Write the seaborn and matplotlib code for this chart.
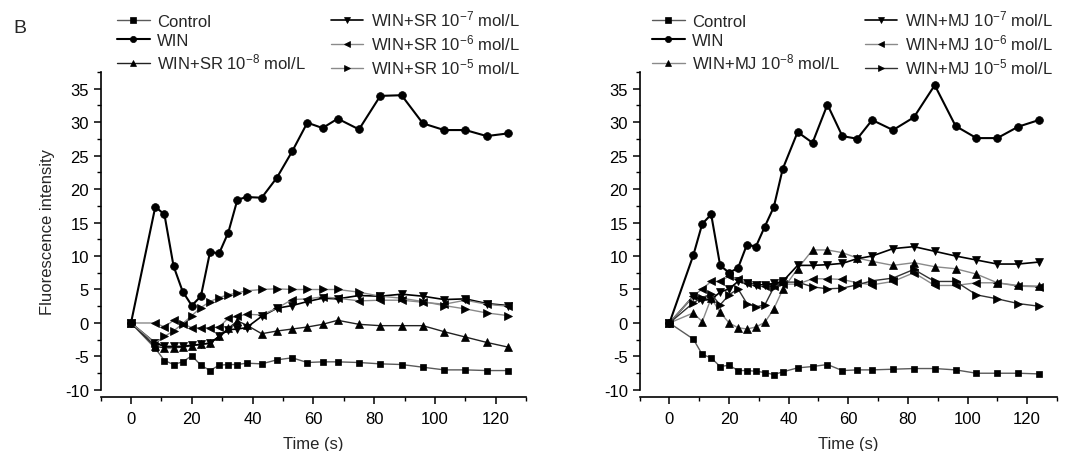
import matplotlib
matplotlib.use("Agg")
import matplotlib.pyplot as plt
import seaborn as sns
from matplotlib.ticker import MultipleLocator

# ---------------- data ----------------
time_s = [0, 8, 11, 14, 17, 20, 23, 26, 29, 32, 35, 38, 43, 48, 53, 58, 63, 68,
          75, 82, 89, 96, 103, 110, 117, 124]

# Panel with SR
sr_control = [0, -3.8, -5.6, -6.2, -5.8, -4.9, -6.3, -7.1, -6.3, -6.2, -6.2, -6.0, -6.1,
              -5.5, -5.2, -5.9, -5.8, -5.8, -5.9, -6.1, -6.2, -6.6, -7.0, -7.0, -7.1, -7.1]
sr_win = [0, 17.35, 16.2, 8.5, 4.7, 2.6, 4.0, 10.6, 10.4, 13.5, 18.4, 18.8, 18.7,
          21.7, 25.6, 29.9, 29.1, 30.5, 28.9, 33.9, 34.0, 29.8, 28.8, 28.8, 27.9, 28.3]
sr_1e8 = [0, -3.5, -3.7, -3.7, -3.6, -3.4, -3.2, -3.0, -2.0, -0.8, 0.3, -0.3, -1.6,
          -1.2, -0.9, -0.6, -0.2, 0.4, -0.2, -0.4, -0.4, -0.4, -1.3, -2.1, -2.9, -3.6]
sr_1e7 = [0, -3.0, -3.5, -3.5, -3.5, -3.3, -3.2, -3.0, -2.0, -1.0, -0.9, -0.7, 1.0,
          2.2, 2.6, 3.2, 3.7, 3.6, 4.1, 4.0, 4.3, 4.0, 3.5, 3.6, 2.9, 2.6]
sr_1e6 = [0, 0.0, -0.6, 0.4, -0.1, -0.7, -0.7, -0.7, -0.6, 0.7, 1.0, 1.3, 1.2,
          2.2, 3.5, 3.6, 3.9, 3.7, 3.3, 3.4, 3.4, 3.1, 2.8, 3.4, 2.8, 2.5]
sr_1e5 = [0, -3.0, -2.0, -1.2, -0.1, 1.1, 2.3, 3.2, 3.8, 4.2, 4.5, 4.8, 5.0,
          5.1, 5.0, 5.0, 5.0, 5.0, 4.6, 4.0, 3.7, 3.2, 2.6, 2.1, 1.5, 1.1]

# Panel with MJ
mj_control = [0, -2.4, -4.7, -5.2, -6.5, -6.3, -7.1, -7.1, -7.2, -7.4, -7.7, -7.3, -6.7,
              -6.5, -6.2, -7.1, -7.0, -7.0, -6.9, -6.8, -6.8, -7.0, -7.5, -7.5, -7.5, -7.6]
mj_win = [0, 10.1, 14.8, 16.2, 8.6, 7.5, 8.2, 11.7, 11.4, 14.4, 17.3, 23.0, 28.5,
          26.9, 32.6, 27.9, 27.5, 30.3, 28.8, 30.7, 35.5, 29.4, 27.6, 27.6, 29.3, 30.3]
mj_1e8 = [0, 1.5, 0.2, 3.7, 1.6, 0.0, -0.7, -0.9, -0.6, 0.1, 2.1, 5.0, 8.1,
          10.9, 10.9, 10.5, 9.7, 9.2, 8.6, 9.0, 8.4, 8.1, 7.3, 6.0, 5.6, 5.5]
mj_1e7 = [0, 4.0, 3.4, 3.5, 4.6, 5.1, 6.2, 6.0, 5.7, 5.7, 5.9, 6.2, 8.6,
          8.6, 8.7, 8.9, 9.6, 10.0, 11.1, 11.4, 10.7, 10.0, 9.4, 8.8, 8.8, 9.1]
mj_1e6 = [0, 4.0, 5.1, 6.2, 6.2, 7.0, 6.5, 5.9, 5.6, 5.5, 5.5, 5.8, 5.8,
          6.6, 6.6, 6.5, 6.0, 5.7, 6.2, 7.5, 5.6, 5.6, 6.0, 6.0, 5.5, 5.4]
mj_1e5 = [0, 3.0, 3.8, 4.3, 2.7, 4.2, 5.1, 2.9, 2.4, 2.7, 5.3, 6.1, 6.1,
          5.4, 5.1, 5.2, 5.7, 6.3, 6.7, 8.0, 6.2, 6.2, 4.2, 3.6, 2.9, 2.5]

sr_labels = ["Control", "WIN", r"WIN+SR 10$^{-8}$ mol/L", r"WIN+SR 10$^{-7}$ mol/L",
             r"WIN+SR 10$^{-6}$ mol/L", r"WIN+SR 10$^{-5}$ mol/L"]
mj_labels = ["Control", "WIN", r"WIN+MJ 10$^{-8}$ mol/L", r"WIN+MJ 10$^{-7}$ mol/L",
             r"WIN+MJ 10$^{-6}$ mol/L", r"WIN+MJ 10$^{-5}$ mol/L"]

# ---------------- style ----------------
sns.set_theme(style="ticks")
plt.rcParams["font.family"] = ["Liberation Sans", "DejaVu Sans"]
plt.rcParams["mathtext.fontset"] = "custom"
plt.rcParams["mathtext.rm"] = "Liberation Sans"
plt.rcParams["mathtext.it"] = "Liberation Sans:italic"
plt.rcParams["mathtext.bf"] = "Liberation Sans:bold"
plt.rcParams["axes.unicode_minus"] = False

FS = 12
markers = ["s", "o", "^", "v", "<", ">"]
msizes = [4.6, 5.6, 5.8, 5.8, 5.8, 5.8]
sr_colors = ["#5a5a5a", "black", "#222222", "black", "#8a8a8a", "#8a8a8a"]
mj_colors = ["#5a5a5a", "black", "#8a8a8a", "black", "#8a8a8a", "#333333"]
widths = [1.0, 1.5, 1.0, 1.2, 1.0, 1.0]

fig = plt.figure(figsize=(10.7, 4.52), dpi=100)
ax1 = fig.add_axes([0.094, 0.135, 0.3978, 0.704])
ax2 = fig.add_axes([0.5978, 0.135, 0.39, 0.704])

panels = [
    (ax1, [sr_control, sr_win, sr_1e8, sr_1e7, sr_1e6, sr_1e5], sr_labels, sr_colors, 117),
    (ax2, [mj_control, mj_win, mj_1e8, mj_1e7, mj_1e6, mj_1e5], mj_labels, mj_colors, 652),
]

for ax, series, labels, colors, legx in panels:
    for vals, lab, col, mk, ms, lw in zip(series, labels, colors, markers, msizes, widths):
        sns.lineplot(x=time_s, y=vals, ax=ax, color=col, linewidth=lw, marker=mk,
                     markersize=ms, markerfacecolor="black", markeredgecolor="black",
                     markeredgewidth=0.5, label=lab, zorder=3 if lab == "WIN" else 2)
    ax.set_xlim(-10, 130)
    ax.set_ylim(-10, 37.5)
    ax.xaxis.set_major_locator(MultipleLocator(20))
    ax.xaxis.set_minor_locator(MultipleLocator(10))
    ax.yaxis.set_major_locator(MultipleLocator(5))
    ax.yaxis.set_minor_locator(MultipleLocator(2.5))
    ax.set_yticks(range(-10, 36, 5))
    for s in ["top", "right"]:
        ax.spines[s].set_visible(False)
    ax.spines["bottom"].set_position(("outward", 5))
    for s in ["left", "bottom"]:
        ax.spines[s].set_linewidth(1.2)
        ax.spines[s].set_color("black")
    ax.tick_params(which="major", direction="out", length=4.8, width=1.1, labelsize=FS,
                   colors="black")
    ax.tick_params(axis="x", which="major", pad=5)
    ax.tick_params(axis="y", which="major", pad=3.5)
    ax.tick_params(which="minor", direction="out", length=2.6, width=1.0, colors="black")
    ax.set_xlabel("Time (s)", fontsize=FS, labelpad=7.5)
    ax.set_facecolor("white")
    h, l = ax.get_legend_handles_labels()
    ax.legend(h, l, ncol=2, loc="upper left",
              bbox_to_anchor=(legx / 1070, 1 - 10 / 452), bbox_transform=fig.transFigure,
              frameon=False, borderpad=0, borderaxespad=0, fontsize=FS,
              handlelength=1.95, handletextpad=0.45, columnspacing=1.5, labelspacing=0.24,
              markerscale=0.8)

ax1.set_ylabel("Fluorescence intensity", fontsize=FS, labelpad=7)
ax2.set_ylabel("")

fig.text(13 / 1070, 1 - 33 / 452, "B", fontsize=14, va="baseline", ha="left")

fig.savefig("out.png", dpi=100, facecolor="white")
